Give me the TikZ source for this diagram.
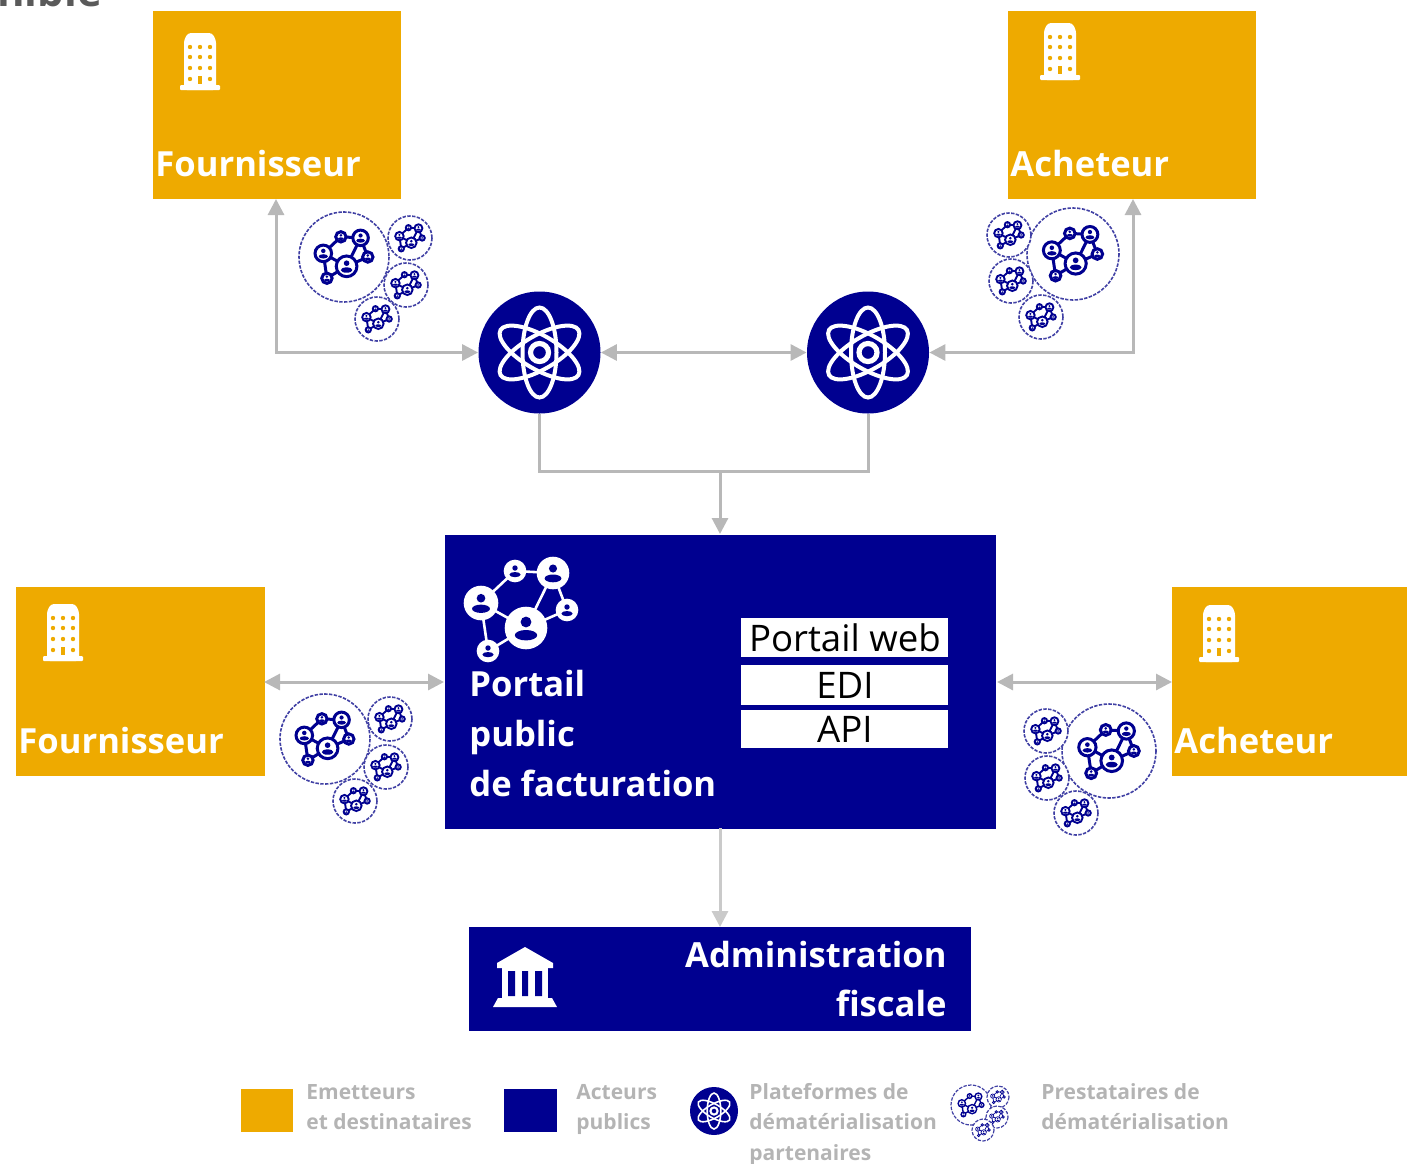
\documentclass[tikz,border=0pt]{standalone}
\usepackage{fontspec}
\setmainfont{Open Sans}
\definecolor{navy}{HTML}{000090}
\definecolor{amber}{HTML}{EEAA00}
\definecolor{arrowgray}{HTML}{B8B8B8}
\definecolor{legendgray}{HTML}{B4B4B4}
\definecolor{ringblue}{HTML}{4040A4}
\definecolor{titlegray}{HTML}{5A5A5A}
\usetikzlibrary{arrows.meta}
\newcommand\fs[2]{\fontsize{#1}{#2}\selectfont}
% person-in-circle: x y radius
\newcommand\persona[3]{%
  \fill[white,draw=netcol,line width=\netlw] (#1,#2) circle[radius=#3];
  \fill[navy] (#1,#2-0.30*#3) circle[radius=0.27*#3];
  \fill[navy] (#1,#2+0.36*#3) ellipse[x radius=0.56*#3,y radius=0.26*#3];
}
% network icon: x y scale colour linewidth
\newcommand\netw[5]{%
  \def\netlw{#5}\colorlet{netcol}{#4}%
  \begin{scope}[shift={(#1,#2)},scale=#3]
    \draw[netcol,line width=#5] (5,18)--(32,-37)--(-6,-39)--(-40,-7)--(5,18)--(-33,41)--(-40,-7);
    \draw[netcol,line width=#5] (5,18)--(46,0)--(32,-37);
    \persona{5}{18}{20}\persona{32}{-37}{15}\persona{-40}{-7}{16}
    \persona{-6}{-39}{10}\persona{46}{0}{10}\persona{-33}{41}{10}
  \end{scope}}
\def\biglw{1.5pt}\def\smalllw{.95pt}\def\ringlw{.8pt}
\newcommand\bigring[3]{%
  \draw[ringblue,dash pattern=on 1.7pt off .7pt,line width=\ringlw,fill=white] (#1,#2) circle[radius=#3];
  \netw{#1}{#2}{#3/100*1.15}{navy}{\biglw}}
\newcommand\smallring[3]{%
  \draw[ringblue,dash pattern=on 1.7pt off .7pt,line width=\ringlw,fill=white] (#1,#2) circle[radius=#3];
  \netw{#1}{#2}{#3/100*1.2}{navy}{\smalllw}}
% building icon
\newcommand\building[2]{%
  \begin{scope}[shift={(#1,#2)}]
    \fill[white,rounded corners=1.5pt] (-16,28)--(-16,-22)--(-12,-29)--(12,-29)--(16,-22)--(16,28)--cycle;
    \fill[white,rounded corners=.5pt] (-20,23)rectangle(20,28);
    \foreach \yy in {-15,-5,6} \foreach \xx in {-10,0,10} \fill[amber] (\xx,\yy) circle[radius=2.2];
    \foreach \xx in {-10,10} \fill[amber] (\xx,17) circle[radius=2.2];
    \fill[amber] (-2,14) rectangle (2,22);
  \end{scope}}
% atom icon inside a node
\newcommand\atom[2]{%
  \begin{scope}[shift={(#1)},scale=#2]
    \foreach \aa in {0,60,120} \draw[white,line width=2pt*#2] (0,0) ellipse[x radius=17,y radius=45,rotate=\aa];
    \draw[white,line width=2.6pt*#2] (0,0) circle[radius=9];
  \end{scope}}
\tikzset{
  x=.5pt,y=-.5pt,
  ybox/.style={fill=amber,inner sep=0,anchor=north west},
  bbox/.style={fill=navy,inner sep=0,anchor=north west},
  wbar/.style={fill=white,inner sep=0,anchor=north west,minimum width=103.5pt,text=black,font=\fs{18.3}{20}},
  atomdisc/.style={circle,fill=navy,minimum size=61pt,inner sep=0},
  lab/.style={text=white,inner sep=0,anchor=base west,font=\fs{17.3}{20}\bfseries},
  labr/.style={text=white,inner sep=0,anchor=base east,font=\fs{17.3}{20}\bfseries},
  leg/.style={text=legendgray,inner sep=0,anchor=base west,font=\fs{10.5}{13}\bfseries},
  link/.style={draw=arrowgray,line width=1.5pt},
  tip/.style={link,{Triangle[length=8pt,width=8pt]}-{Triangle[length=8pt,width=8pt]}},
  tipend/.style={link,-{Triangle[length=8pt,width=8pt]}},
}
\begin{document}
\begin{tikzpicture}
\useasboundingbox (0,0) rectangle (1407,1163);
\begin{scope}
  \clip (0,0) rectangle (1407,1163);
  \node[text=titlegray,inner sep=0,anchor=base west,font=\fs{21}{23}\bfseries] (clipt) at (-3,6) {nible};
\end{scope}
% boxes
\node[ybox,minimum width=124pt,minimum height=94pt] (f1) at (153,11) {};
\node[ybox,minimum width=124pt,minimum height=94pt] (a1) at (1008,11) {};
\node[ybox,minimum width=124.5pt,minimum height=94.5pt] (f2) at (16,587) {};
\node[ybox,minimum width=117.5pt,minimum height=94.5pt] (a2) at (1172,587) {};
\node[bbox,minimum width=275.5pt,minimum height=147pt] (portal) at (445,535) {};
\node[bbox,minimum width=251pt,minimum height=52pt] (admin) at (469,927) {};
\node[atomdisc] (p1) at (539.5,352.5) {};
\node[atomdisc] (p2) at (868,352.5) {};
% connectors
\coordinate (f1c) at (276,199);
\coordinate (a1c) at (1133,199);
\coordinate (join) at (720,471);
\coordinate (fl) at (264,682);
\coordinate (fr) at (444,682);
\coordinate (al) at (997,682);
\coordinate (ar) at (1172,682);
\coordinate (pb) at (720,828);
\coordinate (pt) at (720,534);
\coordinate (at) at (720,927);
\draw[tip] (f1c) |- (p1.west);
\draw[tip] (a1c) |- (p2.east);
\draw[tip] (p1.east) -- (p2.west);
\draw[link] (p1.south) |- (join) -| (p2.south);
\draw[tipend] (join) -- (pt);
\draw[tip] (fl) -- (fr);
\draw[tip] (al) -- (ar);
\draw[tipend,draw=arrowgray!75] (pb) -- (at);
% texts
\node[lab] (t1) at (155,176) {Fournisseur};
\node[lab] (t2) at (1010,176) {Acheteur};
\node[lab] (t3) at (18,753) {Fournisseur};
\node[lab] (t4) at (1174,753) {Acheteur};
\building{200}{62}\building{1060}{52}\building{63}{633}\building{1219}{634}
\atom{p1}{1}\atom{p2}{1}
% clusters
\bigring{344}{257}{45}\smallring{410}{238}{22}\smallring{406}{285}{22}\smallring{377}{319}{22}
\bigring{1073}{254}{46}\smallring{1009}{235}{22}\smallring{1011}{281}{22}\smallring{1041}{317}{22}
\bigring{325}{739}{45}\smallring{390}{719}{22}\smallring{386}{767}{22}\smallring{355}{801}{22}
\bigring{1109}{751}{47}\smallring{1046}{731}{22}\smallring{1047}{778}{22}\smallring{1076}{813}{22}
% portal contents
\netw{521}{610}{1}{white}{1.3pt}
\node[lab] (t5) at (469,696) {Portail};
\node[lab] (t6) at (469,746) {public};
\node[lab] (t7) at (469,796) {de facturation};
\node[wbar,minimum height=19.5pt] (b1) at (741,618) {Portail web};
\node[wbar,minimum height=20pt] (b2) at (741,665) {EDI};
\node[wbar,minimum height=19pt] (b3) at (741,710) {API};
% admin
\node[labr] (t8) at (947,967) {Administration};
\node[labr] (t9) at (947,1016) {fiscale};
\fill[white] (525,947)--(553,963)--(553,968)--(497,968)--(497,963)--cycle;
\fill[white] (502,968) rectangle (548,998);
\fill[navy] (508,971) rectangle (515,996) (522,971) rectangle (528,996) (535,971) rectangle (542,996);
\fill[white] (498,998)--(552,998)--(557,1007)--(493,1007)--cycle;
% legend
\node[ybox,minimum width=26pt,minimum height=21.5pt] (ly) at (241,1089) {};
\node[bbox,minimum width=26.5pt,minimum height=21.5pt] (lb) at (504,1089) {};
\node[atomdisc,minimum size=24pt] (lp) at (714,1111) {};
\atom{lp}{.4}
\def\biglw{.7pt}\def\smalllw{.35pt}\def\ringlw{.6pt}
\bigring{971}{1105}{20}\smallring{998}{1097}{11}\smallring{997}{1117}{11}\smallring{983}{1130}{11}
\node[leg] (l1) at (306,1099) {Emetteurs};
\node[leg] (l2) at (306,1129) {et destinataires};
\node[leg] (l3) at (576,1099) {Acteurs};
\node[leg] (l4) at (576,1129) {publics};
\node[leg] (l5) at (749,1099) {Plateformes de};
\node[leg] (l6) at (749,1129) {dématérialisation};
\node[leg] (l7) at (749,1160) {partenaires};
\node[leg] (l8) at (1041,1099) {Prestataires de};
\node[leg] (l9) at (1041,1129) {dématérialisation};
\end{tikzpicture}
\end{document}
